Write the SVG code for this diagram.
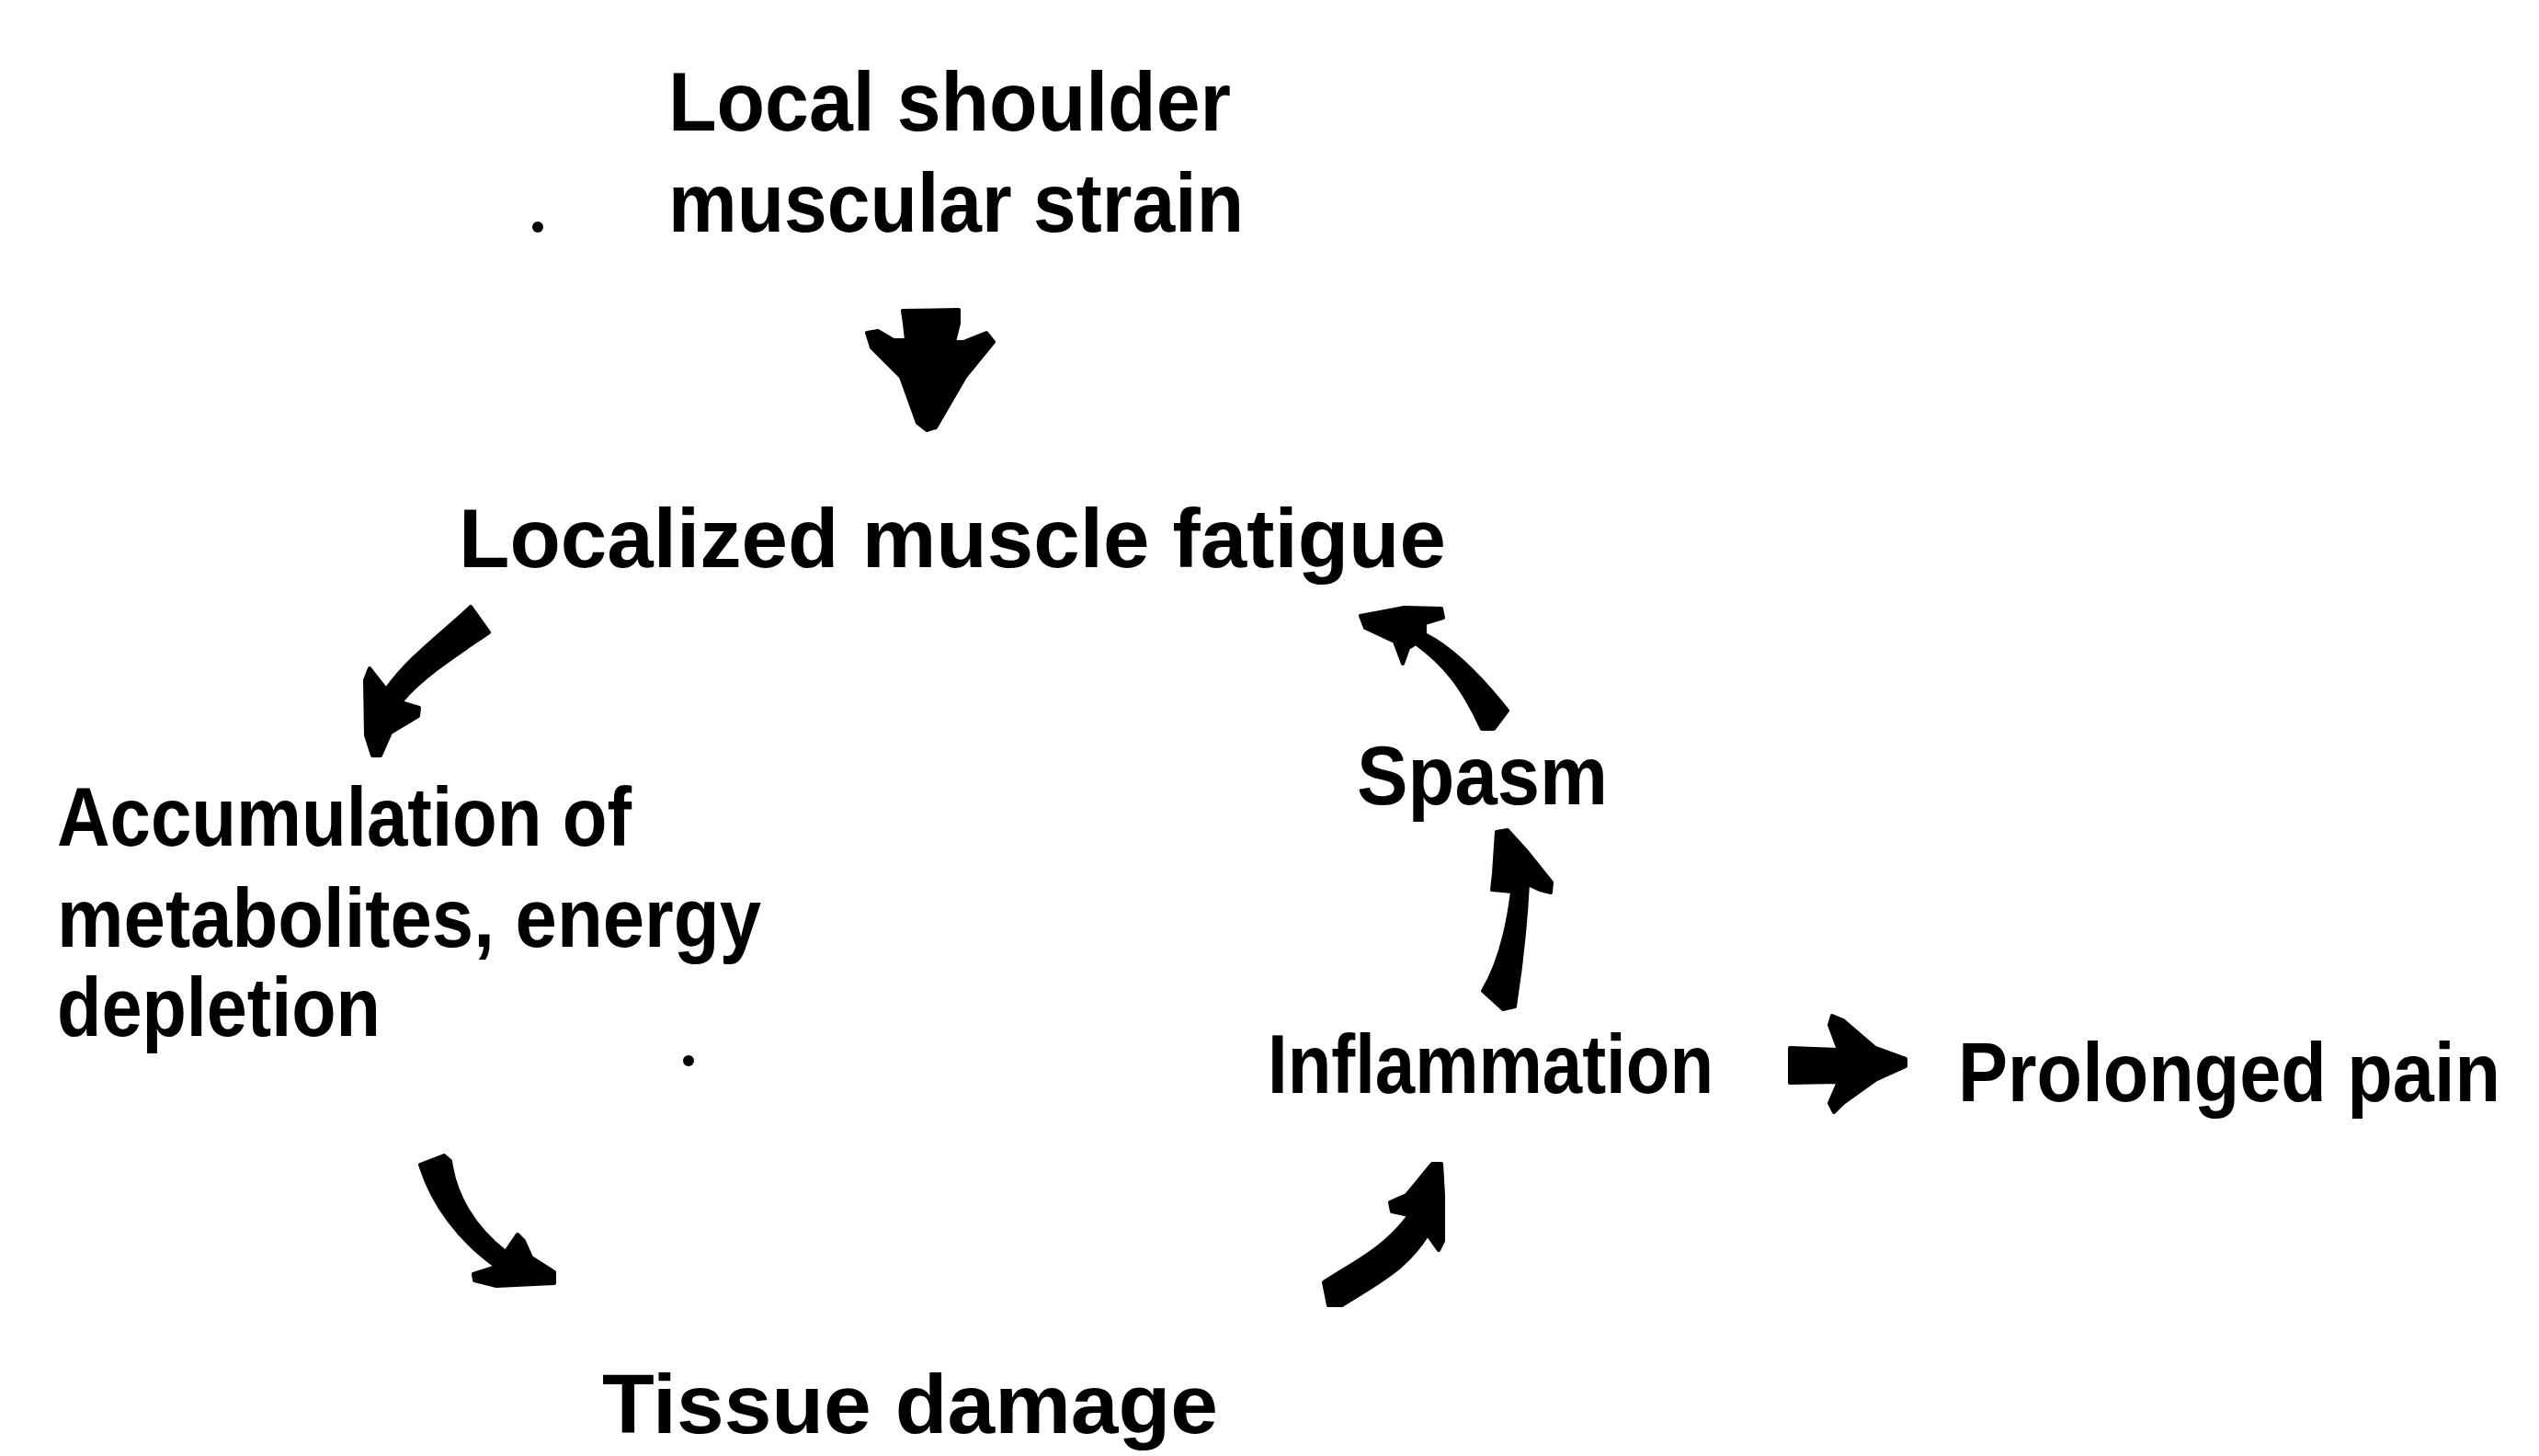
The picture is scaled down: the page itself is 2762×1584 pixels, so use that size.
<svg xmlns="http://www.w3.org/2000/svg" width="2762" height="1584" viewBox="0 0 2762 1584">
<style>
.t{font-family:"Liberation Sans",Arial,sans-serif;font-weight:bold;font-size:90px;fill:#000}
.a{fill:#000;stroke:#000;stroke-width:4;stroke-linejoin:round}
</style>
<rect width="2762" height="1584" fill="#fff"/>
<g id="node-strain">
<text class="t" x="727" y="142" textLength="612" lengthAdjust="spacingAndGlyphs">Local  shoulder</text>
<text class="t" x="727" y="252" textLength="626" lengthAdjust="spacingAndGlyphs">muscular  strain</text>
</g>
<g id="node-fatigue">
<text class="t" x="499" y="617" textLength="1074" lengthAdjust="spacingAndGlyphs">Localized  muscle  fatigue</text>
</g>
<g id="node-accumulation">
<text class="t" x="62" y="920" textLength="625" lengthAdjust="spacingAndGlyphs">Accumulation of</text>
<text class="t" x="62" y="1030" textLength="766" lengthAdjust="spacingAndGlyphs">metabolites, energy</text>
<text class="t" x="62" y="1127" textLength="352" lengthAdjust="spacingAndGlyphs">depletion</text>
</g>
<g id="node-tissue">
<text class="t" x="655" y="1559" textLength="670" lengthAdjust="spacingAndGlyphs">Tissue  damage</text>
</g>
<g id="node-inflammation">
<text class="t" x="1379" y="1189" textLength="485" lengthAdjust="spacingAndGlyphs">Inflammation</text>
</g>
<g id="node-pain">
<text class="t" x="2130" y="1198" font-size="84" textLength="590" lengthAdjust="spacingAndGlyphs">Prolonged pain</text>
</g>
<g id="node-spasm">
<text class="t" x="1476" y="875" textLength="273" lengthAdjust="spacingAndGlyphs">Spasm</text>
</g>
<g id="marks">
<circle cx="585" cy="247" r="6"/>
<circle cx="749" cy="1154" r="6"/>
</g>
<g id="connectors">
<path class="a" d="M982,338 L1043,337 L1043,352 L1038,372 L1048,372 L1073,362 L1081,372 L1050,410 L1018,465 L1008,468 L998,460 L980,410 L948,378 L943,362 L955,360 L972,370 L986,370 L984,352 Z"/>
<path class="a" d="M512,660 C480,690 445,715 420,750 L402,727 L397,740 L398,800 L405,822 L414,822 L425,797 L455,779 L456,770 L436,764 C460,735 500,710 532,688 Z"/>
<path class="a" d="M457,1267 L483,1257 L490,1263 C495,1300 515,1335 550,1362 L563,1343 L570,1350 L578,1368 L603,1384 L603,1396 L540,1399 L516,1393 L515,1386 L540,1378 C500,1350 470,1310 457,1267 Z"/>
<path class="a" d="M1440,1395 C1470,1375 1505,1360 1533,1322 L1514,1318 L1512,1308 L1530,1300 L1558,1266 L1568,1266 L1570,1300 L1570,1350 L1565,1360 L1553,1343 C1530,1380 1500,1395 1460,1420 L1445,1420 Z"/>
<path class="a" d="M1613,1078 C1630,1050 1640,1010 1645,970 L1623,968 L1625,950 L1628,905 L1640,903 L1660,925 L1688,960 L1687,971 L1675,968 L1662,962 C1660,1000 1655,1050 1648,1095 L1635,1098 Z"/>
<path class="a" d="M1640,773 C1610,735 1580,705 1550,690 L1550,678 L1570,672 L1568,662 L1527,661 L1480,670 L1485,683 L1517,698 L1526,722 L1532,705 L1540,700 C1570,722 1590,745 1612,793 L1625,793 Z"/>
<path class="a" d="M1947,1140 L2000,1142 L1990,1115 L1993,1105 L2005,1110 L2040,1140 L2073,1152 L2073,1160 L2040,1175 L2005,1200 L1995,1210 L1990,1200 L2000,1177 L1947,1178 Z"/>
</g>
</svg>
